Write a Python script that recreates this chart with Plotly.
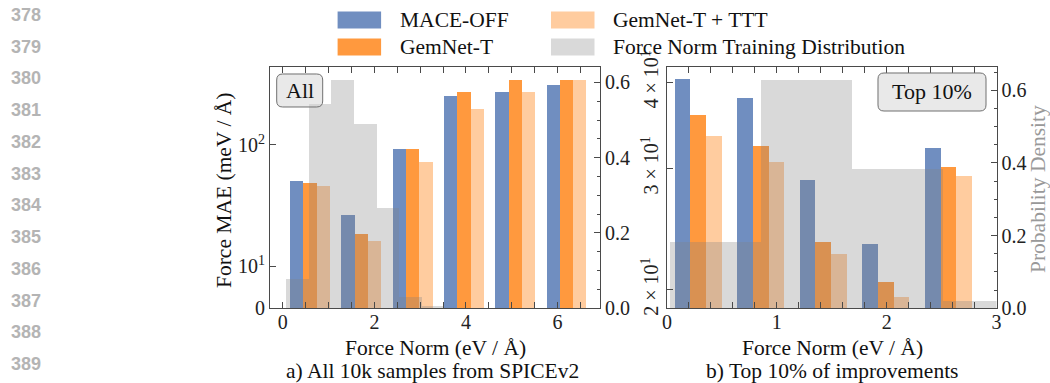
import plotly.graph_objects as go

# ---------------- data ----------------
series_names = ["MACE-OFF", "GemNet-T", "GemNet-T + TTT"]
hist_name = "Force Norm Training Distribution"

# panel a) all samples
left_bin_centers = [0.595, 1.715, 2.835, 3.955, 5.075, 6.195]
mace_all = [50.1, 26.2, 92.6, 254, 274, 313]
gemnet_all = [48.5, 18.4, 91.5, 270, 340, 344]
ttt_all = [45.2, 16.0, 72.4, 199, 274, 340]
left_hist_centers = [0.319, 0.813, 1.307, 1.801, 2.295, 2.789, 3.283]
left_hist_density = [0.078, 0.542, 0.606, 0.489, 0.265, 0.030, 0.006]

# panel b) top 10% of improvements
right_bin_centers = [0.283, 0.853, 1.423, 1.993, 2.563]
mace_top = [40.4, 37.9, 28.8, 23.3, 32.1]
gemnet_top = [35.8, 32.3, 23.4, 20.5, 30.1]
ttt_top = [33.4, 30.6, 22.5, 19.5, 29.2]
right_hist_centers = [0.442, 1.271, 2.101, 2.930]
right_hist_density = [0.181, 0.628, 0.382, 0.020]

line_numbers = list(range(378, 390))

# ---------------- style ----------------
W, H = 1050, 383
FONT = "Liberation Serif"
colors = ["rgba(76,114,176,0.8)", "rgba(255,127,14,0.8)", "rgba(255,127,14,0.4)"]
hist_color = "rgba(128,128,128,0.3)"
axis_col = "#4a4a4a"
left_bar_w, right_bar_w = 0.29, 0.143
left_hist_w, right_hist_w = 0.494, 0.8295


def px(x):
    return x / W


def py(y):
    return 1 - y / H


fig = go.Figure()

for vals, name, col, k in zip([mace_all, gemnet_all, ttt_all], series_names, colors, [-1, 0, 1]):
    fig.add_trace(go.Bar(x=[c + k * left_bar_w for c in left_bin_centers], y=vals, width=left_bar_w,
                         name=name, marker=dict(color=col, line=dict(width=0)),
                         xaxis="x", yaxis="y", showlegend=False))
fig.add_trace(go.Bar(x=left_hist_centers, y=left_hist_density, width=left_hist_w, name=hist_name,
                     marker=dict(color=hist_color, line=dict(width=0)),
                     xaxis="x", yaxis="y2", showlegend=False))

for vals, name, col, k in zip([mace_top, gemnet_top, ttt_top], series_names, colors, [-1, 0, 1]):
    fig.add_trace(go.Bar(x=[c + k * right_bar_w for c in right_bin_centers], y=vals, width=right_bar_w,
                         name=name, marker=dict(color=col, line=dict(width=0)),
                         xaxis="x2", yaxis="y3", showlegend=False))
fig.add_trace(go.Bar(x=right_hist_centers, y=right_hist_density, width=right_hist_w, name=hist_name,
                     marker=dict(color=hist_color, line=dict(width=0)),
                     xaxis="x2", yaxis="y4", showlegend=False))

ydom = [py(308.3), py(67.3)]
tickfont = dict(family=FONT, size=20, color="#222")
common = dict(showline=True, linecolor=axis_col, linewidth=1, showgrid=False, zeroline=False,
              ticks="inside", ticklen=6, tickwidth=1, tickcolor=axis_col, tickfont=tickfont,
              automargin=False)

left_log_range = [0.6504, 2.642]
right_log_range = [1.274, 1.624]

fig.update_layout(
    width=W, height=H, margin=dict(l=0, r=0, t=0, b=0, autoexpand=False),
    paper_bgcolor="white", plot_bgcolor="white",
    barmode="overlay", bargap=0, showlegend=False,
    font=dict(family=FONT, size=21, color="#222"),
    xaxis=dict(domain=[px(270), px(600)], range=[-0.2795, 6.926], anchor="y",
               tickvals=[0, 2, 4, 6], mirror="allticks", ticklabelstandoff=-4,
               minor=dict(dtick=0.5, ticks="inside", ticklen=3, tickcolor=axis_col),
               **common),
    yaxis=dict(domain=ydom, type="log", range=left_log_range, anchor="x",
               tickvals=[10 ** left_log_range[0], 10, 100],
               ticktext=["0", "10<sup>1</sup>", "10<sup>2</sup>"], **common),
    yaxis2=dict(domain=ydom, range=[0, 0.640], overlaying="y", side="right", anchor="x",
                tickvals=[0, 0.2, 0.4, 0.6], tickformat=".1f",
                minor=dict(dtick=0.05, ticks="inside", ticklen=3, tickcolor=axis_col),
                **common),
    xaxis2=dict(domain=[px(667), px(996.5)], range=[0, 3], anchor="y3",
                tickvals=[0, 1, 2, 3], mirror="allticks", ticklabelstandoff=-4,
                minor=dict(dtick=0.2, ticks="inside", ticklen=3, tickcolor=axis_col),
                **common),
    yaxis3=dict(domain=ydom, type="log", range=right_log_range, anchor="x2",
                tickvals=[20, 30, 40], tickangle=-90,
                ticktext=["2 × 10<sup>1</sup>", "3 × 10<sup>1</sup>", "4 × 10<sup>1</sup>"], **common),
    yaxis4=dict(domain=ydom, range=[0, 0.663], overlaying="y3", side="right", anchor="x2",
                tickvals=[0, 0.2, 0.4, 0.6], tickformat=".1f",
                minor=dict(dtick=0.05, ticks="inside", ticklen=3, tickcolor=axis_col),
                **common),
)


def rrect(x0, y0, x1, y1, r):
    pts = [
        ("M", [(x0 + r, y0)]), ("L", [(x1 - r, y0)]), ("Q", [(x1, y0), (x1, y0 + r)]),
        ("L", [(x1, y1 - r)]), ("Q", [(x1, y1), (x1 - r, y1)]), ("L", [(x0 + r, y1)]),
        ("Q", [(x0, y1), (x0, y1 - r)]), ("L", [(x0, y0 + r)]), ("Q", [(x0, y0), (x0 + r, y0)]),
    ]
    s = ""
    for cmd, ps in pts:
        s += cmd + " ".join(f"{px(a):.5f},{py(b):.5f}" for a, b in ps) + " "
    return s + "Z"


shapes = []
annotations = []

# panel labels in rounded boxes
for (x0, y0, x1, y1), txt in [((276.7, 74, 322.7, 107), "All"), ((878, 73, 986, 111), "Top 10%")]:
    shapes.append(dict(type="path", path=rrect(x0, y0, x1, y1, 6), xref="paper", yref="paper",
                       fillcolor="rgba(211,211,211,0.5)", line=dict(color="#707070", width=1),
                       layer="above"))
    annotations.append(dict(x=px((x0 + x1) / 2), y=py((y0 + y1) / 2), xref="paper", yref="paper",
                            text=txt, showarrow=False, xanchor="center", yanchor="middle",
                            font=dict(family=FONT, size=22, color="#111")))

# legend (drawn manually to reproduce wide patches)
legend_items = [(series_names[0], colors[0], 337.6, 20), (series_names[1], colors[1], 337.6, 47),
                (series_names[2], colors[2], 551, 20), (hist_name, hist_color, 551, 47)]
for name, col, x0, yc in legend_items:
    shapes.append(dict(type="rect", xref="paper", yref="paper", x0=px(x0), x1=px(x0 + 43.5),
                       y0=py(yc + 8.5), y1=py(yc - 8.5), fillcolor=col, line=dict(width=0)))
    annotations.append(dict(x=px(x0 + 60), y=py(yc), xref="paper", yref="paper", text=name,
                            showarrow=False, xanchor="left", yanchor="middle",
                            font=dict(family=FONT, size=21.5, color="#111")))

# axis titles and captions
annotations += [
    dict(x=px(224), y=py(191), xref="paper", yref="paper", text="Force MAE (meV / Å)", textangle=-90,
         showarrow=False, xanchor="center", yanchor="middle", font=dict(family=FONT, size=21.5, color="#111")),
    dict(x=px(1038), y=py(189), xref="paper", yref="paper", text="Probability Density", textangle=-90,
         showarrow=False, xanchor="center", yanchor="middle", font=dict(family=FONT, size=21.5, color="#999")),
    dict(x=px(435), y=py(348), xref="paper", yref="paper", text="Force Norm (eV / Å)",
         showarrow=False, xanchor="center", yanchor="middle", font=dict(family=FONT, size=21.5, color="#111")),
    dict(x=px(832), y=py(348), xref="paper", yref="paper", text="Force Norm (eV / Å)",
         showarrow=False, xanchor="center", yanchor="middle", font=dict(family=FONT, size=21.5, color="#111")),
    dict(x=px(432), y=py(371), xref="paper", yref="paper", text="a) All 10k samples from SPICEv2",
         showarrow=False, xanchor="center", yanchor="middle", font=dict(family=FONT, size=21.5, color="#111")),
    dict(x=px(832), y=py(371), xref="paper", yref="paper", text="b) Top 10% of improvements",
         showarrow=False, xanchor="center", yanchor="middle", font=dict(family=FONT, size=21.5, color="#111")),
]

# manuscript line numbers
for i, n in enumerate(line_numbers):
    annotations.append(dict(x=px(26), y=py(14.8 + 31.75 * i), xref="paper", yref="paper",
                            text=f"<b>{n}</b>", showarrow=False, xanchor="center", yanchor="middle",
                            font=dict(family="Liberation Sans", size=18, color="#b4b4b4")))

fig.update_layout(shapes=shapes, annotations=annotations)

fig.write_html("out.html", config={"displayModeBar": False},
               post_script="document.body.style.margin='0px';")
